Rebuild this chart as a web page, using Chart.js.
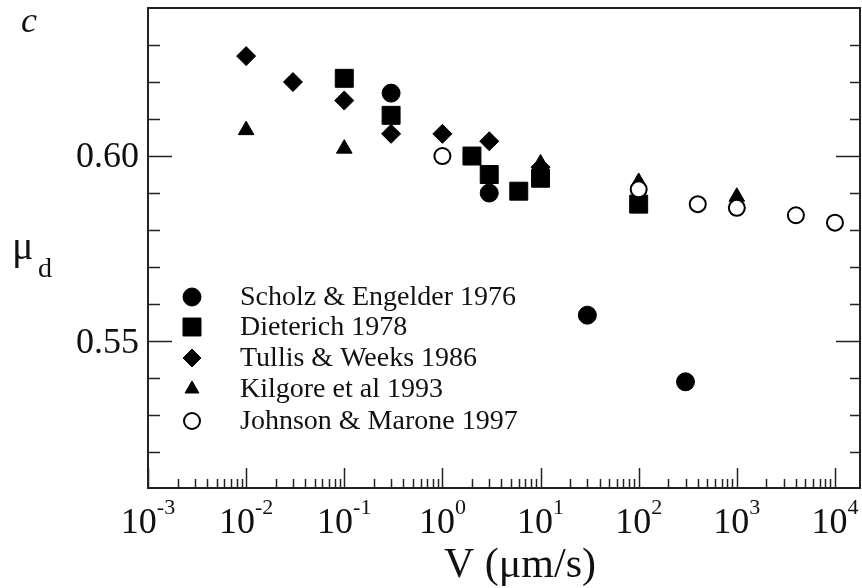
<!DOCTYPE html>
<html>
<head>
<meta charset="utf-8">
<script src="https://cdn.jsdelivr.net/npm/chart.js@4"></script>
<style>
  body { margin: 0; background: #fff; }
  #muChart { display: block; }
</style>
</head>
<body>
<canvas id="muChart" width="862" height="588"></canvas>
<script>
// Series (V in um/s, mu_d)
const seriesNames = ['Scholz & Engelder 1976', 'Dieterich 1978', 'Tullis & Weeks 1986', 'Kilgore et al 1993', 'Johnson & Marone 1997'];

const scholzV = [0.3, 3, 30, 300];
const scholzMu = [0.617, 0.590, 0.557, 0.539];

const dieterichV = [0.1, 0.3, 2, 3, 6, 10, 100];
const dieterichMu = [0.621, 0.611, 0.600, 0.595, 0.5905, 0.594, 0.587];

const tullisV = [0.01, 0.03, 0.1, 0.3, 1, 3, 10];
const tullisMu = [0.627, 0.620, 0.615, 0.606, 0.606, 0.604, 0.597];

const kilgoreV = [0.01, 0.1, 10, 100, 1000];
const kilgoreMu = [0.607, 0.602, 0.598, 0.593, 0.589];

const johnsonV = [1, 100, 400, 1000, 4000, 10000];
const johnsonMu = [0.600, 0.591, 0.587, 0.586, 0.584, 0.582];

// tick labels
const xDecades = [-3, -2, -1, 0, 1, 2, 3, 4];
const yLabels = [0.55, 0.60];
const yTicks = [0.52, 0.53, 0.54, 0.55, 0.56, 0.57, 0.58, 0.59, 0.60, 0.61, 0.62, 0.63];

const SERIF = '"Liberation Serif", "DejaVu Serif", serif';

function pts(xs, ys) {
    return xs.map((v, i) => ({ x: v, y: ys[i] }));
}

// marker look per series (also used by the legend)
const markers = [
    { pointStyle: 'circle', radius: 9, fill: '#000', legendRadius: 9 },
    { pointStyle: 'rect', radius: 12.7, fill: '#000', legendRadius: 12.7 },
    { pointStyle: 'rectRot', radius: 9.5, fill: '#000', legendRadius: 9 },
    { pointStyle: 'triangle', radius: 9, fill: '#000', legendRadius: 8 },
    { pointStyle: 'circle', radius: 8, fill: '#fff', legendRadius: 8 }
];

const seriesData = [
    pts(scholzV, scholzMu),
    pts(dieterichV, dieterichMu),
    pts(tullisV, tullisMu),
    pts(kilgoreV, kilgoreMu),
    pts(johnsonV, johnsonMu)
];

// draw order: lower "order" ends up on top
const drawOrder = [1, 2, 3, 4, 0];

const datasets = seriesData.map((d, i) => ({
    label: seriesNames[i],
    data: d,
    showLine: false,
    order: drawOrder[i],
    pointStyle: markers[i].pointStyle,
    pointRadius: markers[i].radius,
    pointHoverRadius: markers[i].radius,
    pointBackgroundColor: markers[i].fill,
    pointBorderColor: '#000',
    pointBorderWidth: i === 4 ? 2 : 1
}));

// Frame, ticks, labels and legend drawn by hand (log axis with 10^n labels)
const framePlugin = {
    id: 'frame',
    afterDraw(chart) {
        const { ctx, chartArea: a, scales: { x, y } } = chart;
        ctx.save();

        ctx.strokeStyle = '#222';
        ctx.lineWidth = 2;
        ctx.strokeRect(a.left, a.top, a.right - a.left, a.bottom - a.top);

        // x ticks, pointing up from the bottom edge
        ctx.lineWidth = 1.5;
        ctx.beginPath();
        for (let e = -3; e <= 4; e++) {
            for (let m = 1; m <= 9; m++) {
                const v = m * Math.pow(10, e);
                if (v > x.max) break;
                const px = Math.round(x.getPixelForValue(v)) + 0.5;
                const len = m === 1 ? 20 : 9;
                ctx.moveTo(px, a.bottom);
                ctx.lineTo(px, a.bottom - len);
            }
        }
        // y ticks, both sides, pointing inwards
        yTicks.forEach(v => {
            const py = Math.round(y.getPixelForValue(v)) + 0.5;
            const major = yLabels.some(l => Math.abs(l - v) < 1e-6);
            ctx.moveTo(a.left, py);
            ctx.lineTo(a.left + (major ? 24 : 12), py);
            ctx.moveTo(a.right, py);
            ctx.lineTo(a.right - (major ? 24 : 10), py);
        });
        ctx.stroke();

        ctx.fillStyle = '#111';

        // x tick labels 10^n
        xDecades.forEach(e => {
            const px = x.getPixelForValue(Math.pow(10, e));
            ctx.font = '36px ' + SERIF;
            const wBase = ctx.measureText('10').width;
            ctx.font = '22px ' + SERIF;
            const exp = String(e);
            const wExp = ctx.measureText(exp).width;
            const left = px - (wBase + wExp) / 2;
            ctx.textAlign = 'left';
            ctx.textBaseline = 'alphabetic';
            ctx.font = '36px ' + SERIF;
            ctx.fillText('10', left, 533);
            ctx.font = '22px ' + SERIF;
            ctx.fillText(exp, left + wBase, 514);
        });

        // y tick labels
        ctx.font = '36px ' + SERIF;
        ctx.textAlign = 'right';
        ctx.textBaseline = 'middle';
        yLabels.forEach(v => {
            ctx.fillText(v.toFixed(2), 139, y.getPixelForValue(v) + 2);
        });

        // axis titles
        ctx.textAlign = 'center';
        ctx.textBaseline = 'alphabetic';
        ctx.font = '42px ' + SERIF;
        ctx.fillText('V (\u03bcm/s)', 520, 577);

        ctx.textAlign = 'left';
        ctx.font = '40px ' + SERIF;
        ctx.fillText('\u03bc', 12, 259);
        ctx.font = '28px ' + SERIF;
        ctx.fillText('d', 38, 277);

        // panel letter
        ctx.font = 'italic 36px ' + SERIF;
        ctx.fillText('c', 21, 32);

        // legend
        const rowY = [297, 327, 358, 389, 421];
        seriesNames.forEach((name, i) => {
            const mk = markers[i];
            ctx.fillStyle = mk.fill;
            ctx.strokeStyle = '#000';
            ctx.lineWidth = i === 4 ? 2 : 1;
            Chart.helpers.drawPoint(ctx, {
                pointStyle: mk.pointStyle,
                radius: mk.legendRadius,
                rotation: 0,
                borderWidth: ctx.lineWidth
            }, 192, rowY[i]);
            ctx.fillStyle = '#111';
            ctx.font = '28px ' + SERIF;
            ctx.textBaseline = 'middle';
            ctx.textAlign = 'left';
            ctx.fillText(name, 240, rowY[i] + 1);
        });

        ctx.restore();
    }
};

new Chart(document.getElementById('muChart'), {
    type: 'scatter',
    data: { datasets: datasets },
    plugins: [framePlugin],
    options: {
        responsive: false,
        animation: false,
        layout: {
            autoPadding: false,
            padding: { left: 148, top: 8, right: 2, bottom: 100 }
        },
        scales: {
            x: { type: 'logarithmic', min: 0.001, max: 18000, display: false },
            y: { type: 'linear', min: 0.5103, max: 0.6400, display: false }
        },
        plugins: {
            legend: { display: false },
            tooltip: { enabled: false }
        }
    }
});
</script>
</body>
</html>
